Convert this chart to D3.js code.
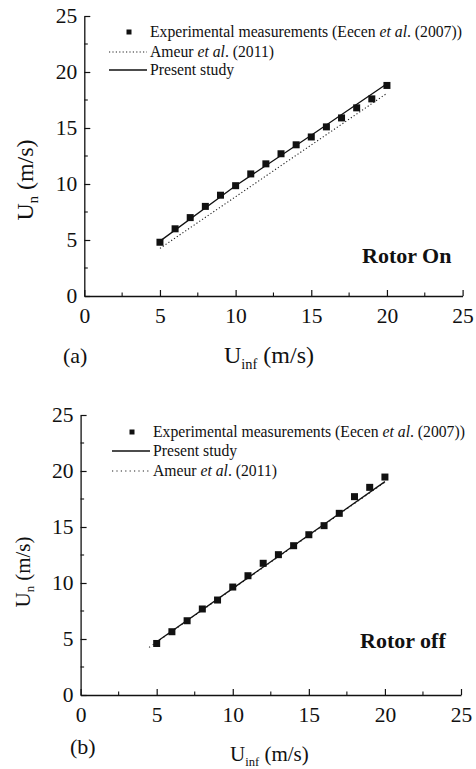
<!DOCTYPE html>
<html>
<head>
<meta charset="utf-8">
<script src="https://cdn.jsdelivr.net/npm/d3@7"></script>
<style>
  body { margin: 0; background: #fff; }
  svg text { font-family: "Liberation Serif", Tinos, "Times New Roman", Times, "DejaVu Serif", serif; }
</style>
</head>
<body>
<svg id="chart" width="476" height="769"></svg>
<script>
// wind speed at the rotor inflow, m/s
const uInf = [5, 6, 7, 8, 9, 10, 11, 12, 13, 14, 15, 16, 17, 18, 19, 20];

// (a) rotor on
const expOn = [4.8, 6.0, 7.0, 8.0, 9.0, 9.85, 10.9, 11.8, 12.7, 13.5, 14.2, 15.1, 15.9, 16.8, 17.6, 18.8];
const presentOnX = [5, 10, 15, 20];
const presentOnY = [4.9, 9.85, 14.35, 18.95];
const ameurOnX = [5, 20];
const ameurOnY = [4.25, 18.1];

// (b) rotor off
const expOff = [4.6, 5.65, 6.63, 7.68, 8.48, 9.64, 10.65, 11.76, 12.53, 13.33, 14.31, 15.12, 16.22, 17.71, 18.54, 19.46];
const presentOffX = [5, 20];
const presentOffY = [4.75, 19.05];
const ameurOffX = [4.5, 20];
const ameurOffY = [4.25, 19.0];

const tickValues = [0, 5, 10, 15, 20, 25];
const minorTicks = [2.5, 7.5, 12.5, 17.5, 22.5];

const FONT = '"Liberation Serif", Tinos, "Times New Roman", Times, "DejaVu Serif", serif';

const svg = d3.select("#chart");

function drawPanel(opt) {
  const x = d3.scaleLinear().domain([0, 25]).range([opt.left, opt.right]);
  const y = d3.scaleLinear().domain([0, 25]).range([opt.bottom, opt.top]);
  const g = svg.append("g").attr("font-family", FONT);

  // axes, ticks pointing inside
  const xAxis = g.append("g").attr("transform", `translate(0,${opt.bottom})`)
    .call(d3.axisBottom(x).tickValues(tickValues).tickSizeInner(-6).tickSizeOuter(0).tickPadding(11));
  const yAxis = g.append("g").attr("transform", `translate(${opt.left},0)`)
    .call(d3.axisLeft(y).tickValues(tickValues).tickSizeInner(-6).tickSizeOuter(0).tickPadding(7));
  [xAxis, yAxis].forEach(a => {
    a.attr("font-family", FONT);
    a.select(".domain").attr("stroke", "#111").attr("stroke-width", 1.3);
    a.selectAll(".tick line").attr("stroke", "#111").attr("stroke-width", 1.2);
    a.selectAll("text").attr("font-size", 21.5).attr("fill", "#111");
  });
  xAxis.selectAll("text").attr("dy", "0.75em");
  g.selectAll(".minx").data(minorTicks).join("line")
    .attr("x1", d => x(d)).attr("x2", d => x(d))
    .attr("y1", opt.bottom).attr("y2", opt.bottom - 3.5)
    .attr("stroke", "#111").attr("stroke-width", 1.1);
  g.selectAll(".miny").data(minorTicks).join("line")
    .attr("y1", d => y(d)).attr("y2", d => y(d))
    .attr("x1", opt.left).attr("x2", opt.left + 3.5)
    .attr("stroke", "#111").attr("stroke-width", 1.1);

  const line = d3.line().x(d => x(d[0])).y(d => y(d[1]));

  g.append("path").datum(d3.zip(opt.ameurX, opt.ameurY))
    .attr("d", line).attr("fill", "none").attr("stroke", "#222")
    .attr("stroke-width", 1.1).attr("stroke-dasharray", opt.dots);
  g.append("path").datum(d3.zip(opt.presentX, opt.presentY))
    .attr("d", line).attr("fill", "none").attr("stroke", "#111").attr("stroke-width", 1.3);

  const ms = 7;
  g.selectAll(".pt").data(d3.zip(uInf, opt.exp)).join("rect")
    .attr("x", d => x(d[0]) - ms / 2).attr("y", d => y(d[1]) - ms / 2)
    .attr("width", ms).attr("height", ms).attr("fill", "#111");

  // legend
  const lg = g.append("g").attr("font-size", opt.legendSize).attr("fill", "#111");
  const lx1 = opt.legX, lx2 = opt.legX + 38, tx = opt.legX + 41;
  lg.append("rect").attr("x", (lx1 + lx2) / 2 + 1 - 2.5).attr("y", opt.legY - 2.5)
    .attr("width", 5).attr("height", 5).attr("fill", "#111");
  const expText = lg.append("text").attr("x", tx).attr("y", opt.legY).attr("dy", "0.35em");
  expText.append("tspan").text("Experimental measurements (Eecen ");
  expText.append("tspan").attr("font-style", "italic").text("et al");
  expText.append("tspan").text(". (2007))");

  lg.append("line").attr("x1", lx1).attr("x2", lx2)
    .attr("y1", opt.ameurLegY).attr("y2", opt.ameurLegY)
    .attr("stroke", "#222").attr("stroke-width", 1.1).attr("stroke-dasharray", opt.dots);
  const amText = lg.append("text").attr("x", tx).attr("y", opt.ameurLegY).attr("dy", "0.35em");
  amText.append("tspan").text("Ameur ");
  amText.append("tspan").attr("font-style", "italic").text("et al");
  amText.append("tspan").text(". (2011)");

  lg.append("line").attr("x1", lx1).attr("x2", lx2)
    .attr("y1", opt.presentLegY).attr("y2", opt.presentLegY)
    .attr("stroke", "#111").attr("stroke-width", 1.3);
  lg.append("text").attr("x", tx).attr("y", opt.presentLegY).attr("dy", "0.35em").text("Present study");

  // annotation
  g.append("text").attr("x", opt.noteX).attr("y", opt.noteY)
    .attr("font-size", opt.noteSize).attr("font-weight", "bold").attr("fill", "#111").text(opt.note);

  // axis titles
  const yt = g.append("text").attr("font-size", opt.ylabSize).attr("fill", "#111")
    .attr("text-anchor", "middle")
    .attr("transform", `translate(${opt.ylabX},${opt.ylabY}) rotate(-90)`);
  yt.append("tspan").text("U");
  yt.append("tspan").attr("font-size", opt.ylabSize * 0.6).attr("dy", "0.35em").text("n");
  yt.append("tspan").attr("dy", `${-0.35 * 0.6}em`).text(" (m/s)");

  const xt = g.append("text").attr("font-size", opt.xlabSize).attr("fill", "#111")
    .attr("x", opt.xlabX).attr("y", opt.xlabY);
  xt.append("tspan").text("U");
  xt.append("tspan").attr("font-size", opt.xlabSize * 0.6).attr("dy", "0.4em").text("inf");
  xt.append("tspan").attr("dy", `${-0.4 * 0.6}em`).text(" (m/s)");

  g.append("text").attr("x", opt.panelX).attr("y", opt.panelY)
    .attr("font-size", opt.panelSize).attr("fill", "#111").text(opt.panel);
}

drawPanel({
  left: 84.3, right: 462.6, top: 16, bottom: 296,
  exp: expOn, presentX: presentOnX, presentY: presentOnY, ameurX: ameurOnX, ameurY: ameurOnY,
  dots: "1.2,2.2", legendSize: 15.7, legX: 109, legY: 32, ameurLegY: 52, presentLegY: 70,
  note: "Rotor On", noteX: 362, noteY: 263, noteSize: 22,
  ylabSize: 24, ylabX: 33, ylabY: 180,
  xlabSize: 24, xlabX: 224, xlabY: 363,
  panel: "(a)", panelX: 63, panelY: 363, panelSize: 22
});

drawPanel({
  left: 80.6, right: 461, top: 415, bottom: 695,
  exp: expOff, presentX: presentOffX, presentY: presentOffY, ameurX: ameurOffX, ameurY: ameurOffY,
  dots: "1.2,3.2", legendSize: 15.7, legX: 112, legY: 432, ameurLegY: 471, presentLegY: 451,
  note: "Rotor off", noteX: 360, noteY: 648, noteSize: 22,
  ylabSize: 21, ylabX: 30, ylabY: 572,
  xlabSize: 21, xlabX: 230, xlabY: 761,
  panel: "(b)", panelX: 70, panelY: 754, panelSize: 22
});
</script>
</body>
</html>
